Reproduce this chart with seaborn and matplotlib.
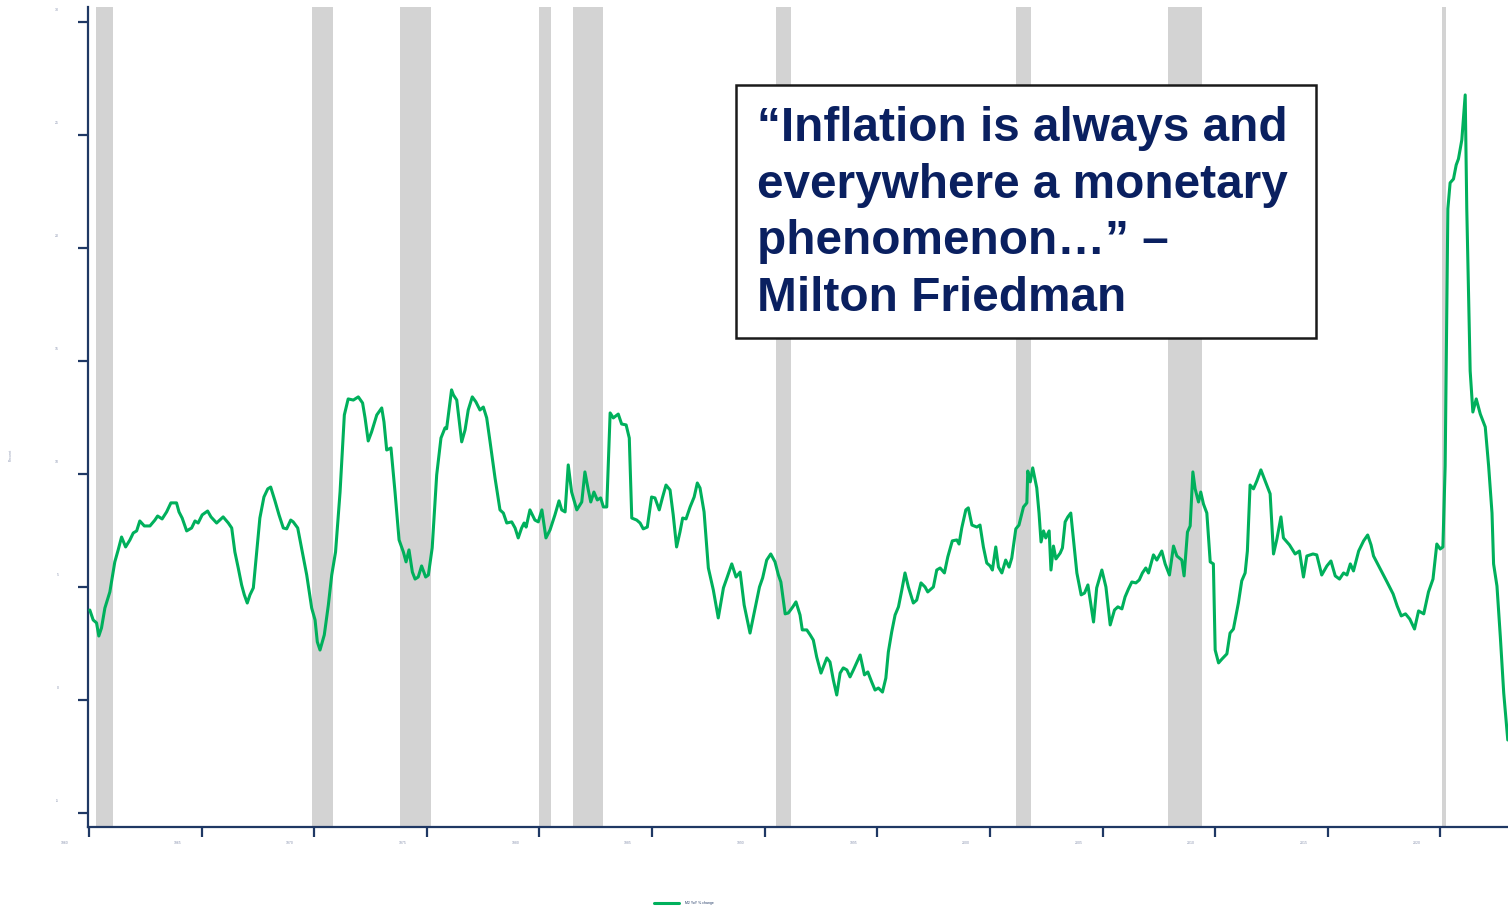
import seaborn as sns
import matplotlib
matplotlib.use("Agg")
import matplotlib.pyplot as plt
import matplotlib.patches as patches
from matplotlib.transforms import ScaledTranslation
import pandas as pd

# M2 money supply, year-over-year % change
years = [
    1960.04, 1960.19, 1960.34, 1960.44, 1960.56, 1960.71, 1960.93, 1961.15, 1961.30, 1961.45,
    1961.63, 1961.82, 1961.97, 1962.12, 1962.26, 1962.46, 1962.71, 1962.93, 1963.05, 1963.25,
    1963.45, 1963.64, 1963.89, 1964.00, 1964.14, 1964.34, 1964.56, 1964.71, 1964.85, 1965.03,
    1965.27, 1965.42, 1965.67, 1965.96, 1966.19, 1966.34, 1966.48, 1966.63, 1966.78, 1966.90,
    1967.03, 1967.15, 1967.30, 1967.45, 1967.59, 1967.77, 1967.94, 1968.07, 1968.26, 1968.44,
    1968.63, 1968.78, 1968.96, 1969.07, 1969.27, 1969.44, 1969.67, 1969.89, 1970.04, 1970.14,
    1970.26, 1970.45, 1970.63, 1970.78, 1970.95, 1971.15, 1971.34, 1971.51, 1971.74, 1971.96,
    1972.15, 1972.26, 1972.40, 1972.55, 1972.78, 1973.00, 1973.10, 1973.22, 1973.41, 1973.59,
    1973.77, 1973.96, 1974.08, 1974.21, 1974.36, 1974.48, 1974.62, 1974.77, 1974.95, 1975.07,
    1975.24, 1975.44, 1975.63, 1975.81, 1975.88, 1976.10, 1976.18, 1976.33, 1976.55, 1976.70,
    1976.84, 1977.02, 1977.18, 1977.36, 1977.51, 1977.66, 1977.81, 1978.03, 1978.25, 1978.40,
    1978.55, 1978.77, 1978.92, 1979.06, 1979.21, 1979.32, 1979.41, 1979.58, 1979.80, 1979.95,
    1980.11, 1980.29, 1980.47, 1980.69, 1980.87, 1980.99, 1981.14, 1981.28, 1981.43, 1981.66,
    1981.88, 1982.02, 1982.17, 1982.28, 1982.42, 1982.57, 1982.72, 1982.84, 1982.99, 1983.14,
    1983.28, 1983.50, 1983.65, 1983.85, 1983.99, 1984.10, 1984.32, 1984.47, 1984.61, 1984.79,
    1984.98, 1985.13, 1985.32, 1985.47, 1985.62, 1985.80, 1985.94, 1986.09, 1986.24, 1986.36,
    1986.51, 1986.69, 1986.87, 1987.01, 1987.13, 1987.31, 1987.50, 1987.72, 1987.94, 1988.17,
    1988.34, 1988.54, 1988.73, 1988.91, 1989.09, 1989.35, 1989.58, 1989.77, 1989.91, 1990.09,
    1990.27, 1990.46, 1990.61, 1990.72, 1990.91, 1991.05, 1991.25, 1991.39, 1991.57, 1991.67,
    1991.87, 1992.02, 1992.16, 1992.31, 1992.50, 1992.76, 1992.90, 1993.05, 1993.20, 1993.35,
    1993.49, 1993.65, 1993.79, 1993.94, 1994.24, 1994.43, 1994.58, 1994.75, 1994.90, 1995.05,
    1995.23, 1995.38, 1995.49, 1995.64, 1995.79, 1995.94, 1996.09, 1996.23, 1996.38, 1996.60,
    1996.75, 1996.94, 1997.12, 1997.24, 1997.49, 1997.64, 1997.79, 1997.98, 1998.13, 1998.33,
    1998.53, 1998.63, 1998.75, 1998.93, 1999.04, 1999.20, 1999.42, 1999.56, 1999.71, 1999.86,
    2000.01, 2000.11, 2000.26, 2000.38, 2000.53, 2000.70, 2000.85, 2000.97, 2001.15, 2001.29,
    2001.49, 2001.64, 2001.68, 2001.79, 2001.90, 2002.08, 2002.18, 2002.27, 2002.38, 2002.48,
    2002.63, 2002.71, 2002.82, 2002.93, 2003.12, 2003.22, 2003.34, 2003.46, 2003.59, 2003.71,
    2003.86, 2004.05, 2004.20, 2004.35, 2004.60, 2004.74, 2004.97, 2005.15, 2005.34, 2005.53,
    2005.68, 2005.86, 2006.00, 2006.15, 2006.30, 2006.48, 2006.63, 2006.77, 2006.92, 2007.04,
    2007.26, 2007.41, 2007.63, 2007.78, 2007.97, 2008.15, 2008.30, 2008.52, 2008.62, 2008.77,
    2008.89, 2009.01, 2009.11, 2009.26, 2009.36, 2009.48, 2009.63, 2009.78, 2009.92, 2010.00,
    2010.15, 2010.30, 2010.52, 2010.66, 2010.81, 2011.03, 2011.18, 2011.33, 2011.43, 2011.55,
    2011.70, 2011.85, 2012.03, 2012.22, 2012.44, 2012.59, 2012.74, 2012.92, 2013.03, 2013.30,
    2013.55, 2013.74, 2013.92, 2014.07, 2014.34, 2014.51, 2014.73, 2014.96, 2015.14, 2015.33,
    2015.52, 2015.70, 2015.85, 2016.00, 2016.14, 2016.37, 2016.59, 2016.77, 2016.92, 2017.03,
    2017.33, 2017.63, 2017.90, 2018.08, 2018.26, 2018.45, 2018.64, 2018.85, 2019.03, 2019.26,
    2019.47, 2019.67, 2019.84, 2019.99, 2020.11, 2020.21, 2020.33, 2020.43, 2020.58, 2020.70,
    2020.80, 2020.95, 2021.10, 2021.17, 2021.32, 2021.44, 2021.59, 2021.77, 2021.99, 2022.14,
    2022.29, 2022.36, 2022.51, 2022.66, 2022.81, 2022.99,
]
m2_yoy = [
    3.98, 3.54, 3.41, 2.83, 3.19, 4.07, 4.78, 6.11, 6.64, 7.21,
    6.77, 7.08, 7.39, 7.48, 7.92, 7.70, 7.70, 7.96, 8.14, 8.01,
    8.32, 8.72, 8.72, 8.32, 8.05, 7.48, 7.61, 7.92, 7.83, 8.19,
    8.36, 8.10, 7.83, 8.10, 7.83, 7.61, 6.55, 5.84, 5.09, 4.65,
    4.29, 4.65, 4.96, 6.55, 8.05, 8.98, 9.34, 9.42, 8.81, 8.19,
    7.61, 7.57, 7.96, 7.88, 7.61, 6.73, 5.53, 4.07, 3.54, 2.57,
    2.21, 2.88, 4.20, 5.53, 6.55, 9.20, 12.61, 13.32, 13.27, 13.41,
    13.14, 12.48, 11.46, 11.86, 12.61, 12.92, 12.30, 11.06, 11.15, 9.20,
    7.08, 6.55, 6.11, 6.64, 5.66, 5.35, 5.44, 5.93, 5.44, 5.53,
    6.73, 9.96, 11.59, 12.04, 12.00, 13.72, 13.50, 13.27, 11.42, 11.95,
    12.83, 13.41, 13.19, 12.83, 12.96, 12.48, 11.42, 9.82, 8.41, 8.27,
    7.83, 7.88, 7.61, 7.17, 7.61, 7.83, 7.65, 8.41, 7.96, 7.88,
    8.41, 7.17, 7.52, 8.19, 8.81, 8.41, 8.32, 10.40, 9.20, 8.41,
    8.76, 10.09, 9.29, 8.76, 9.20, 8.85, 8.94, 8.54, 8.54, 12.70,
    12.48, 12.65, 12.21, 12.17, 11.59, 8.05, 7.96, 7.83, 7.57, 7.65,
    8.98, 8.94, 8.41, 8.98, 9.51, 9.29, 8.19, 6.77, 7.43, 8.05,
    8.01, 8.54, 8.98, 9.60, 9.38, 8.32, 5.84, 4.87, 3.63, 4.96,
    5.44, 6.02, 5.44, 5.66, 4.20, 2.96, 4.07, 5.00, 5.40, 6.19,
    6.46, 6.11, 5.53, 5.22, 3.81, 3.85, 4.12, 4.34, 3.76, 3.10,
    3.10, 2.88, 2.65, 1.90, 1.19, 1.86, 1.68, 0.88, 0.22, 1.19,
    1.42, 1.33, 1.02, 1.33, 1.99, 1.11, 1.24, 0.80, 0.44, 0.53,
    0.35, 0.97, 2.12, 3.01, 3.76, 4.12, 4.87, 5.62, 5.00, 4.29,
    4.42, 5.18, 5.00, 4.78, 5.00, 5.75, 5.84, 5.62, 6.33, 7.04,
    7.08, 6.90, 7.61, 8.41, 8.50, 7.74, 7.65, 7.74, 6.77, 6.06,
    5.93, 5.75, 6.77, 5.88, 5.62, 6.19, 5.88, 6.28, 7.57, 7.74,
    8.54, 8.72, 10.13, 9.65, 10.27, 9.38, 8.27, 6.99, 7.48, 7.17,
    7.48, 5.75, 6.81, 6.24, 6.50, 6.73, 7.88, 8.10, 8.27, 7.08,
    5.62, 4.65, 4.73, 5.09, 3.45, 4.96, 5.75, 5.00, 3.32, 3.98,
    4.12, 4.03, 4.56, 4.91, 5.22, 5.18, 5.31, 5.62, 5.84, 5.62,
    6.42, 6.19, 6.59, 6.02, 5.53, 6.81, 6.37, 6.19, 5.49, 7.43,
    7.70, 10.09, 9.34, 8.76, 9.20, 8.67, 8.27, 6.11, 6.02, 2.21,
    1.64, 1.81, 2.04, 2.96, 3.14, 4.29, 5.27, 5.62, 6.59, 9.51,
    9.34, 9.69, 10.18, 9.69, 9.12, 6.46, 7.12, 8.10, 7.17, 6.86,
    6.46, 6.59, 5.44, 6.37, 6.46, 6.42, 5.53, 5.93, 6.15, 5.49,
    5.35, 5.62, 5.53, 6.02, 5.71, 6.59, 7.04, 7.30, 6.86, 6.37,
    5.80, 5.22, 4.69, 4.16, 3.72, 3.81, 3.58, 3.14, 3.94, 3.81,
    4.78, 5.35, 6.90, 6.68, 6.77, 10.35, 21.73, 22.88, 23.05, 23.67,
    23.94, 24.78, 26.77, 21.73, 14.56, 12.74, 13.32, 12.65, 12.08, 10.35,
    8.27, 6.02, 5.04, 2.79, 0.31, -1.77,
]

# NBER recessions (start, end) in decimal years
recession_start = [1960.33, 1969.92, 1973.83, 1980.00, 1981.50, 1990.50, 2001.17, 2007.92, 2020.06]
recession_end = [1961.08, 1970.83, 1975.17, 1980.50, 1982.83, 1991.17, 2001.83, 2009.42, 2020.25]

x_ticks = list(range(1960, 2021, 5))
y_ticks = [-5, 0, 5, 10, 15, 20, 25, 30]

quote = "“Inflation is always and\neverywhere a monetary\nphenomenon…” –\nMilton Friedman"

df = pd.DataFrame({"year": years, "m2": m2_yoy})

navy = "#1f3864"
label_col = "#8a94b0"

sns.set_style("white")
plt.rcParams["font.family"] = ["Liberation Sans", "DejaVu Sans"]

W, H, DPI = 1508, 907, 100
fig = plt.figure(figsize=(W / DPI, H / DPI), dpi=DPI)
ax = fig.add_axes([88 / W, 1 - 827 / H, 1 - 88 / W, (827 - 7) / H])

for s, e in zip(recession_start, recession_end):
    ax.axvspan(s, e, color="#d3d3d3", lw=0, zorder=1)

sns.lineplot(data=df, x="year", y="m2", color="#00b05c", linewidth=2.2,
             label="M2 YoY % change", ax=ax, zorder=3)

ax.set_xlim(1959.96, 2023.0)
ax.set_ylim(-5.62, 30.66)

for side in ["top", "right"]:
    ax.spines[side].set_visible(False)
for side in ["left", "bottom"]:
    ax.spines[side].set_color(navy)
    ax.spines[side].set_linewidth(1.6)

ax.set_xticks(x_ticks)
ax.set_xticklabels([str(y) for y in x_ticks])
ax.set_yticks(y_ticks)
ax.set_yticklabels([str(v) for v in y_ticks])
ax.tick_params(axis="both", direction="out", length=7, width=1.6, color=navy,
               labelsize=2.5, labelcolor=label_col, bottom=True, left=True)
ax.tick_params(axis="y", pad=14)
ax.tick_params(axis="x", pad=3)

# tick labels sit a little off their ticks in the original
for lab in ax.get_xticklabels():
    lab.set_transform(lab.get_transform() + ScaledTranslation(-0.24, 0, fig.dpi_scale_trans))
for lab in ax.get_yticklabels():
    lab.set_transform(lab.get_transform() + ScaledTranslation(0, 0.12, fig.dpi_scale_trans))

ax.set_xlabel("")
ax.set_ylabel("Percent", fontsize=2.5, color=label_col)
ax.yaxis.set_label_coords((13 - 88) / (W - 88), (827 - 455) / 820)

ax.legend(loc="center left", bbox_to_anchor=(652 / W, 1 - 903 / H),
          bbox_transform=fig.transFigure, frameon=False, fontsize=2.5,
          handlelength=7.2, handletextpad=1.7, borderpad=0, labelcolor=navy)

# quote box
box = patches.Rectangle((736 / W, 1 - 338 / H), (1316 - 736) / W, (338 - 85) / H,
                        transform=fig.transFigure, facecolor="white",
                        edgecolor="#1a1a1a", linewidth=1.8, zorder=5)
fig.patches.append(box)
fig.text(757 / W, 1 - 106 / H, quote, fontsize=34.4, fontweight="bold",
         color="#0a2060", va="top", ha="left", linespacing=1.33, zorder=6)

fig.savefig("out.png", dpi=DPI)
